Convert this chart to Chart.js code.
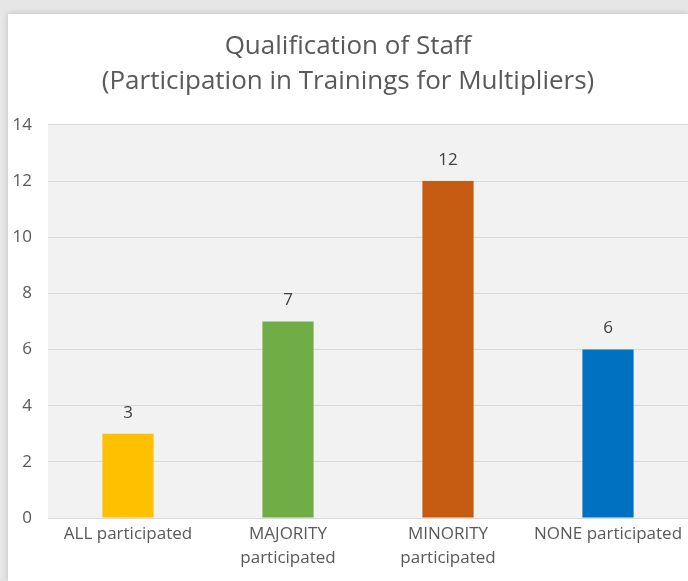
<!DOCTYPE html>
<html>
<head>
<meta charset="utf-8">
<script src="https://cdn.jsdelivr.net/npm/chart.js@4/dist/chart.umd.min.js"></script>
<style>
  html, body { margin: 0; padding: 0; }
  body { width: 688px; height: 581px; background: #e6e6e6; overflow: hidden; position: relative; }
  #box {
    position: absolute; left: 8px; top: 14px; width: 680px; height: 567px;
    background: #ffffff; box-shadow: 0 0 6px rgba(0,0,0,0.18);
  }
</style>
</head>
<body>
<div id="box"><canvas id="staffChart" width="680" height="567"></canvas></div>
<script>
// data
const categories = [
  'ALL participated',
  ['MAJORITY', 'participated'],
  ['MINORITY', 'participated'],
  'NONE participated'
];
const counts = [3, 7, 12, 6];
const barColors = ['#FFC000', '#70AD47', '#C55A11', '#0070C0'];
const yTicks = [0, 2, 4, 6, 8, 10, 12, 14];

const fontFamily = "'Open Sans', 'Liberation Sans', sans-serif";

// grey plot area background
const plotBg = {
  id: 'plotBg',
  beforeDraw(chart) {
    const { ctx, chartArea: a } = chart;
    ctx.save();
    ctx.fillStyle = '#f2f2f2';
    ctx.fillRect(a.left, a.top, a.right - a.left, a.bottom - a.top);
    ctx.restore();
  }
};

// value labels above bars
const valueLabels = {
  id: 'valueLabels',
  afterDatasetsDraw(chart) {
    const { ctx } = chart;
    const meta = chart.getDatasetMeta(0);
    ctx.save();
    ctx.font = '17px ' + fontFamily;
    ctx.fillStyle = '#404040';
    ctx.textAlign = 'center';
    ctx.textBaseline = 'middle';
    meta.data.forEach((bar, i) => {
      ctx.fillText(counts[i], bar.x, bar.y - 21);
    });
    ctx.restore();
  }
};

new Chart(document.getElementById('staffChart'), {
  type: 'bar',
  data: {
    labels: categories,
    datasets: [{
      data: counts,
      backgroundColor: barColors,
      borderWidth: 0,
      categoryPercentage: 1,
      barPercentage: 0.32
    }]
  },
  options: {
    responsive: false,
    animation: false,
    layout: { padding: { top: 0, right: 0, bottom: 7, left: 0 } },
    plugins: {
      legend: { display: false },
      tooltip: { enabled: false },
      title: {
        display: true,
        text: ['Qualification of Staff', '(Participation in Trainings for Multipliers)'],
        color: '#595959',
        font: { family: fontFamily, size: 26, weight: 'normal', lineHeight: 1.345 },
        padding: { top: 15, bottom: 26 }
      }
    },
    scales: {
      x: {
        grid: { display: false, drawTicks: false },
        border: { display: true, color: '#d9d9d9', width: 1 },
        ticks: {
          color: '#595959',
          font: { family: fontFamily, size: 17, lineHeight: 1.41 },
          padding: 4,
          maxRotation: 0,
          autoSkip: false
        }
      },
      y: {
        min: 0,
        max: 14,
        afterBuildTicks(axis) {
          axis.ticks = yTicks.map(v => ({ value: v }));
        },
        afterFit(axis) { axis.width = 40; },
        grid: { color: '#d9d9d9', drawTicks: false },
        border: { display: false },
        ticks: {
          color: '#595959',
          font: { family: fontFamily, size: 17 },
          padding: 16
        }
      }
    }
  },
  plugins: [plotBg, valueLabels]
});
</script>
</body>
</html>
